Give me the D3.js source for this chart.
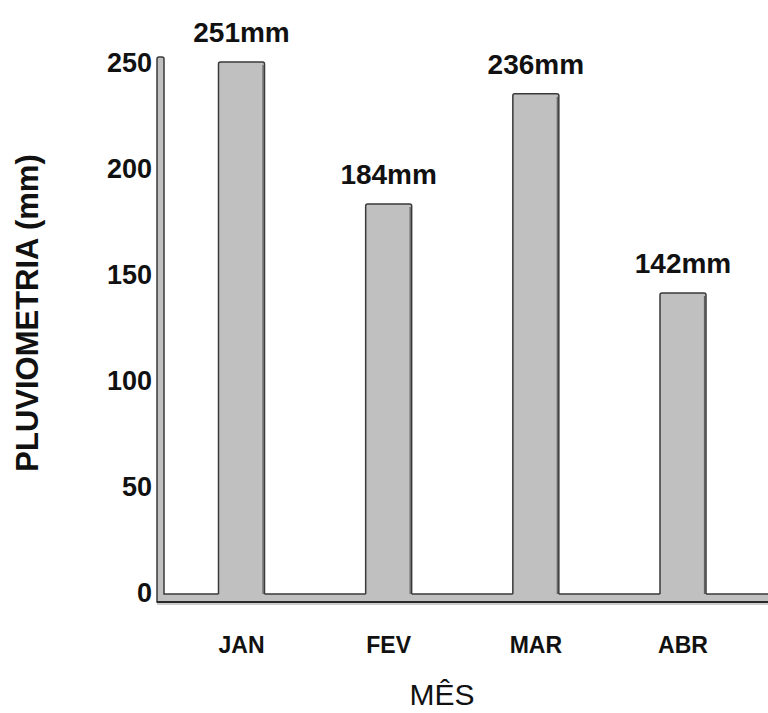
<!DOCTYPE html>
<html>
<head>
<meta charset="utf-8">
<script src="https://cdn.jsdelivr.net/npm/d3@7"></script>
<style>
  html, body { margin: 0; padding: 0; background: #ffffff; }
  svg { display: block; font-family: "Liberation Sans", Arial, sans-serif; }
</style>
</head>
<body>
<svg id="chart" width="768" height="713"></svg>
<script>
// Monthly rainfall (mm)
const months = ["JAN", "FEV", "MAR", "ABR"];
const rainfall = [251, 184, 236, 142];
const yTicks = [0, 50, 100, 150, 200, 250];
const unit = "mm";
const yTitle = "PLUVIOMETRIA (mm)";
const xTitle = "MÊS";

const svg = d3.select("#chart");
const W = 768;

const y = d3.scaleLinear().domain([0, 250]).range([594, 64]);
const x = d3.scalePoint().domain(months).range([241.5, 683]);
const barW = 46;

const fillGray = "#c0c0c0";
const edge = "#3a3a3a";

// L-shaped axis band (vertical + horizontal), filled gray with dark outline
const axisLeft = 157, axisRight = 164;
const base = y(0);
const bandBottom = base + 8;
const axisTop = y.range()[1] - 7;

svg.append("path")
  .attr("d", `M${axisLeft},${axisTop + 2} Q${axisLeft},${axisTop} ${axisLeft + 2},${axisTop}
              L${axisRight - 2},${axisTop} Q${axisRight},${axisTop} ${axisRight},${axisTop + 2}
              L${axisRight},${base} L${W + 2},${base} L${W + 2},${bandBottom} L${axisLeft},${bandBottom} Z`)
  .attr("fill", fillGray)
  .attr("stroke", edge)
  .attr("stroke-width", 1.5);

// darker shadow line under the horizontal band
svg.append("line")
  .attr("x1", axisLeft).attr("x2", W)
  .attr("y1", bandBottom).attr("y2", bandBottom)
  .attr("stroke", "#2a2a2a").attr("stroke-width", 2);
svg.append("line")
  .attr("x1", axisLeft).attr("x2", W)
  .attr("y1", bandBottom + 2).attr("y2", bandBottom + 2)
  .attr("stroke", "#9a9a9a").attr("stroke-width", 1);

// Bars: fill runs into the axis band, outline only on left/top/right
const bars = svg.append("g");
months.forEach((m, i) => {
  const cx = x(m);
  const x0 = cx - barW / 2, x1 = cx + barW / 2;
  const top = y(rainfall[i]);
  bars.append("rect")
    .attr("x", x0).attr("y", top)
    .attr("width", barW).attr("height", base - top + 1)
    .attr("fill", fillGray);
  bars.append("path")
    .attr("d", `M${x0},${base} L${x0},${top + 2} Q${x0},${top} ${x0 + 2},${top}
                L${x1 - 2},${top} Q${x1},${top} ${x1},${top + 2} L${x1},${base}`)
    .attr("fill", "none")
    .attr("stroke", edge)
    .attr("stroke-width", 1.5);
  // right-side shading
  bars.append("line")
    .attr("x1", x1 - 1.5).attr("x2", x1 - 1.5)
    .attr("y1", top + 3).attr("y2", base)
    .attr("stroke", "#222").attr("stroke-width", 1.2).attr("opacity", 0.6);
});

// Value labels
svg.append("g").selectAll("text")
  .data(months)
  .join("text")
  .attr("x", d => x(d))
  .attr("y", (d, i) => y(rainfall[i]) - 20)
  .attr("text-anchor", "middle")
  .attr("font-weight", "bold")
  .attr("font-size", 28)
  .attr("fill", "#111")
  .text((d, i) => rainfall[i] + unit);

// Y tick labels
svg.append("g").selectAll("text")
  .data(yTicks)
  .join("text")
  .attr("x", 152)
  .attr("y", d => y(d) + 8)
  .attr("text-anchor", "end")
  .attr("font-weight", "bold")
  .attr("font-size", 27)
  .attr("fill", "#111")
  .text(d => d);

// X category labels
svg.append("g").selectAll("text")
  .data(months)
  .join("text")
  .attr("x", d => x(d))
  .attr("y", 653)
  .attr("text-anchor", "middle")
  .attr("font-weight", "bold")
  .attr("font-size", 23)
  .attr("fill", "#111")
  .text(d => d);

// Axis titles
svg.append("text")
  .attr("transform", "translate(38,313) rotate(-90)")
  .attr("text-anchor", "middle")
  .attr("font-weight", "bold")
  .attr("font-size", 31)
  .attr("fill", "#111")
  .text(yTitle);

svg.append("text")
  .attr("x", 442)
  .attr("y", 705)
  .attr("text-anchor", "middle")
  .attr("font-size", 30)
  .attr("fill", "#111")
  .text(xTitle);
</script>
</body>
</html>
